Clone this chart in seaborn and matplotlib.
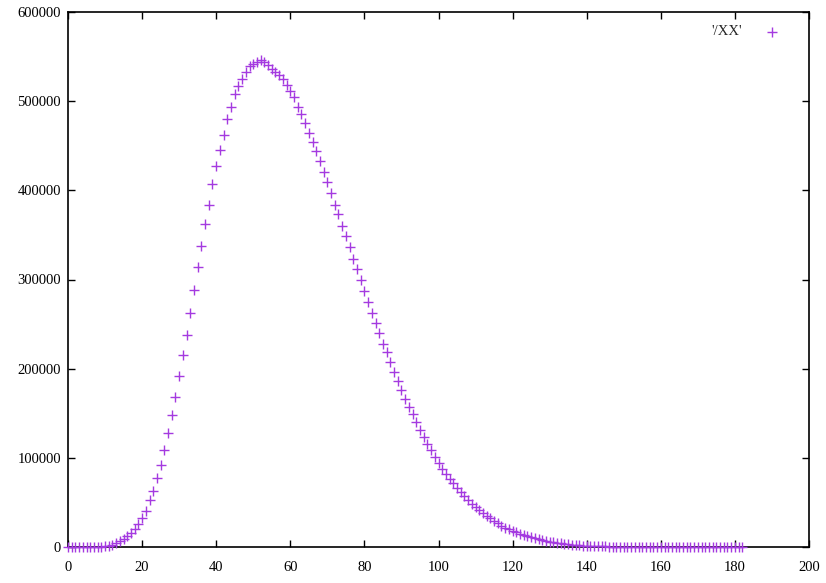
import numpy as np
import pandas as pd
import matplotlib
matplotlib.use("Agg")
import matplotlib.pyplot as plt
import seaborn as sns

# values (x = 0..182)
x_vals = list(range(0, 183))
y_left = [0, 0, 0, 0, 10, 30, 60, 120, 230, 430, 780, 1350,
          2240, 4150, 6390, 9310, 12340, 16040, 20520, 25460, 32190, 40700,
          52500, 63000, 77000, 92000, 108800, 128200, 147700, 168600, 191400,
          215000, 238100, 262400, 287900, 314000, 337900]
y_peak = [361900, 383900, 406800, 427600, 445600, 462400, 479700, 493100,
          508400, 517000, 524500, 532500, 539800, 541300, 544300, 545800,
          544300, 540600, 536100, 533000, 529300, 524900, 518100, 511700,
          505000, 493800, 485600, 475500, 464600, 454500, 444100, 432600,
          420600, 409700, 396700, 383600]
y_fall = [373100, 360300, 349100, 336500, 323300, 311400, 299100, 286800,
          275100, 262800, 251200, 239700, 227700, 218400, 207100, 195900,
          185800, 176100, 166000, 156700, 148800, 140200, 131600, 123700,
          115200, 108400, 101300, 94500, 87800, 81900, 76600, 71400, 65800]
y_tail = [61300, 57600, 53100, 48600, 44900, 41100, 38100, 35100, 32200,
          29200, 26500, 23900, 21700, 19800, 17900, 16400, 14950, 13500,
          12000, 10800, 9700, 8600, 7500, 6700, 6000, 5200, 4500, 4100, 3400,
          3000, 2600, 2200, 1900, 1500,
          1300, 1100, 950, 800, 680, 570, 480, 400, 330, 280, 230, 190, 160,
          130, 110, 90, 75, 60, 50, 40, 33, 27, 22, 18, 15, 12, 10, 8, 6, 5,
          4, 3, 2, 2, 1, 1, 1, 0, 0, 0, 0, 0, 0]
y_vals = y_left + y_peak + y_fall + y_tail

x_ticks = list(range(0, 201, 20))
y_ticks = list(range(0, 600001, 100000))
series_label = "'/XX'"

df = pd.DataFrame({"x": x_vals, "y": y_vals})

sns.set_style("ticks")
plt.rcParams['font.family'] = ['Liberation Serif', 'DejaVu Serif']

fig = plt.figure(figsize=(8.26, 5.83), dpi=100)
ax = fig.add_axes([68 / 826, 1 - 547 / 583, (809 - 68) / 826, (547 - 12) / 583])

sns.scatterplot(data=df, x="x", y="y", marker="+", color="#a43ae0", s=42,
                linewidth=1.0, label=series_label, ax=ax, clip_on=False,
                zorder=3)

ax.set_xlim(0, 200)
ax.set_ylim(0, 600000)
ax.set_xticks(x_ticks)
ax.set_yticks(y_ticks)
ax.set_xlabel("")
ax.set_ylabel("")
for s in ax.spines.values():
    s.set_linewidth(1.2)
    s.set_color("black")
ax.tick_params(direction="in", length=5, width=1, top=True, right=True,
               labelsize=10.5, colors="black")
ax.tick_params(axis="x", pad=10)
ax.tick_params(axis="y", pad=5)
ax.ticklabel_format(style="plain", axis="y")

leg = ax.legend(loc="upper right", frameon=False, markerfirst=False,
                fontsize=10.5, handletextpad=1.0, borderaxespad=0.5,
                bbox_to_anchor=(0.987, 1.0))

fig.savefig("out.png", dpi=100)
